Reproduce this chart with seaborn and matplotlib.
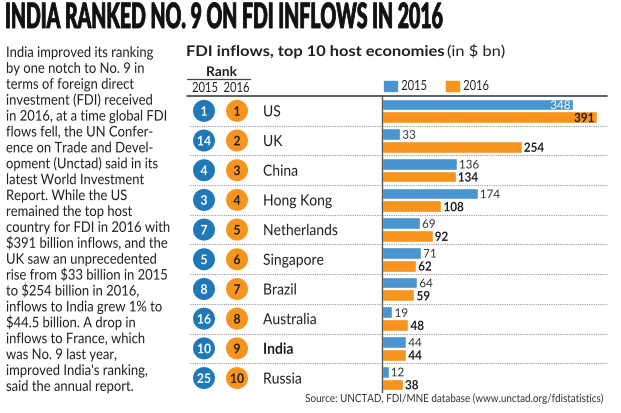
import matplotlib
matplotlib.use("Agg")
import matplotlib.pyplot as plt
from matplotlib.lines import Line2D
from matplotlib.patches import Rectangle
from matplotlib.patheffects import AbstractPathEffect
from matplotlib.transforms import Affine2D, ScaledTranslation
import seaborn as sns
import pandas as pd
import numpy as np

# ---------------- data ----------------
countries = ["US", "UK", "China", "Hong Kong", "Netherlands", "Singapore",
             "Brazil", "Australia", "India", "Russia"]
fdi_2015 = [348, 33, 136, 174, 69, 71, 64, 19, 44, 12]
fdi_2016 = [391, 254, 134, 108, 92, 62, 59, 48, 44, 38]
rank_2015 = [1, 14, 4, 3, 7, 5, 8, 16, 10, 25]
rank_2016 = [1, 2, 3, 4, 5, 6, 7, 8, 9, 10]
years = ["2015", "2016"]
highlight = "India"

title = "INDIA RANKED NO. 9 ON FDI INFLOWS IN 2016"
subtitle_bold = "FDI inflows, top 10 host economies"
subtitle_rest = "(in $ bn)"
rank_header = "Rank"
source = "Source: UNCTAD, FDI/MNE database (www.unctad.org/fdistatistics)"
paragraph = [
    "India improved its ranking",
    "by one notch to No. 9 in",
    "terms of foreign direct",
    "investment (FDI) received",
    "in 2016, at a time global FDI",
    "flows fell, the UN Confer-",
    "ence on Trade and Devel-",
    "opment (Unctad) said in its",
    "latest World Investment",
    "Report. While the US",
    "remained the top host",
    "country for FDI in 2016 with",
    "$391 billion inflows, and the",
    "UK saw an unprecedented",
    "rise from $33 billion in 2015",
    "to $254 billion in 2016,",
    "inflows to India grew 1% to",
    "$44.5 billion. A drop in",
    "inflows to France, which",
    "was No. 9 last year,",
    "improved India's ranking,",
    "said the annual report.",
]

# ---------------- style ----------------
BLUE_BAR = "#4a94cf"
ORANGE = "#f7941d"
BLUE_CIRC = "#1f78b8"
DARK = "#231f20"

sns.set_style("white")
FONT = ["Lato", "DejaVu Sans"]
plt.rcParams["font.family"] = FONT
CAP = 0.7165  # cap height / em for Lato

W, H = 621, 414
fig = plt.figure(figsize=(W / 100, H / 100), dpi=100)
fig.patch.set_facecolor("white")
renderer = fig.canvas.get_renderer()


class Stretch(AbstractPathEffect):
    """Scale glyph outlines about the text anchor (keeps the text a Text)."""

    def __init__(self, text, sx=1.0, sy=1.0, lw=0.0):
        super().__init__()
        self.text, self.sx, self.sy, self.lw = text, sx, sy, lw

    def draw_path(self, renderer, gc, tpath, affine, rgbFace=None):
        x0, y0 = self.text.get_transform().transform(self.text.get_unitless_position())
        extra = Affine2D().translate(-x0, -y0).scale(self.sx, self.sy).translate(x0, y0)
        aff = affine + extra
        if self.lw > 0:
            gc0 = renderer.new_gc()
            gc0.copy_properties(gc)
            gc0.set_linewidth(self.lw)
            gc0.set_foreground(rgbFace)
            renderer.draw_path(gc0, tpath, aff, rgbFace)
            gc0.restore()
        else:
            renderer.draw_path(gc, tpath, aff, rgbFace)


def fx(px):
    return px / W


def fy(py):
    return 1 - py / H


def fit(t, target):
    w = t.get_window_extent(renderer).width
    t.set_fontsize(t.get_fontsize() * target / w)
    return t.get_fontsize()


def shape(t, fontsize, cap_px, lw=0.0):
    t.set_fontsize(fontsize)
    cap_now = fontsize * 100 / 72 * CAP
    t.set_path_effects([Stretch(t, 1.0, cap_px / cap_now, lw)])


def fit_shape(t, width_px, cap_px, lw=0.0):
    fs = fit(t, width_px)
    shape(t, fs, cap_px, lw)
    return fs


# ---------------- bar axes ----------------
top_px, bot_px = 97, 393
ax = fig.add_axes([fx(382), fy(bot_px), fx(607) - fx(382), (bot_px - top_px) / H])

df = pd.DataFrame({
    "country": countries * 2,
    "year": [years[0]] * len(countries) + [years[1]] * len(countries),
    "value": fdi_2015 + fdi_2016,
})
sns.barplot(data=df, y="country", x="value", hue="year", orient="h",
            palette=[BLUE_BAR, ORANGE], width=0.86, gap=0.08,
            saturation=1, ax=ax, legend=True)
ax.set_xlim(0, 409)
ax.set_ylim(9.47, -0.5)
ax.set_xlabel("")
ax.set_ylabel("")
ax.set_xticks([])
ax.set_yticks([])
for s in ["top", "right", "bottom"]:
    ax.spines[s].set_visible(False)
ax.spines["left"].set_color("#555555")
ax.spines["left"].set_linewidth(1.0)
ax.set_facecolor("none")

# legend
handles = [Rectangle((0, 0), 1, 1, color=BLUE_BAR), Rectangle((0, 0), 1, 1, color=ORANGE)]
leg = ax.legend(handles, years, loc="lower left", bbox_to_anchor=(fx(384), fy(93)),
                bbox_transform=fig.transFigure, ncol=2, frameon=False,
                handlelength=1.2, handleheight=1.0, handletextpad=0.35,
                columnspacing=1.7, borderpad=0, borderaxespad=0,
                prop={"family": FONT, "size": 8.0})
for t in leg.get_texts():
    shape(t, 8.0, 10.0)

# value labels
vals = [fdi_2015, fdi_2016]
for k, cont in enumerate(ax.containers):
    for patch, v in zip(cont, vals[k]):
        x = patch.get_width()
        y = patch.get_y() + patch.get_height() / 2
        bold = (k == 1)
        inside = v > 300
        dx = -2.0 if inside else 1.5
        tr = ax.transData + ScaledTranslation(dx / 72, 0, fig.dpi_scale_trans)
        col = ("white" if k == 0 else DARK) if inside else (DARK if bold else "#333333")
        t = ax.text(x, y, str(v), transform=tr, ha="right" if inside else "left",
                    va="center_baseline", color=col, fontsize=8.4,
                    fontweight="bold" if bold else "normal")
        shape(t, 8.4, 9.2 if bold else 8.6)

# ---------------- left table axes ----------------
axl = fig.add_axes([fx(180), fy(bot_px), fx(382) - fx(180), (bot_px - top_px) / H])
axl.set_xlim(180, 382)
axl.set_ylim(9.47, -0.5)
axl.axis("off")
ypos = np.arange(len(countries))
sns.scatterplot(x=np.full(len(countries), 204.0), y=ypos, s=250, color=BLUE_CIRC,
                edgecolor="none", ax=axl, legend=False, clip_on=False)
sns.scatterplot(x=np.full(len(countries), 237.0), y=ypos, s=250, color=ORANGE,
                edgecolor="none", ax=axl, legend=False, clip_on=False)
for i in range(len(countries)):
    t1 = axl.text(204, ypos[i], str(rank_2015[i]), ha="center", va="center_baseline",
                  color="white", fontsize=8.8, fontweight="bold")
    shape(t1, 8.8, 9.5)
    t2 = axl.text(237, ypos[i], str(rank_2016[i]), ha="center", va="center_baseline",
                  color=DARK, fontsize=8.8, fontweight="bold")
    shape(t2, 8.8, 9.5)

name_texts = []
for i, c in enumerate(countries):
    t = axl.text(263, ypos[i], c, ha="left", va="center_baseline", color=DARK,
                 fontsize=11, fontweight="bold" if c == highlight else "normal")
    name_texts.append(t)
name_fs = fit(name_texts[countries.index("Netherlands")], 75)
for t in name_texts:
    shape(t, name_fs, 11.0)

# separators (dotted) between rows
for i in range(len(countries) - 1):
    axl.plot([190, 382], [i + 0.5, i + 0.5], color="#9a9a9a", lw=0.8,
             ls=(0, (1, 1)), clip_on=False)
    ax.plot([0, 409], [i + 0.5, i + 0.5], color="#9a9a9a", lw=0.8,
            ls=(0, (1, 1)), clip_on=False)

# top rule
fig.add_artist(Line2D([fx(187), fx(607)], [fy(97), fy(97)], color="#444444", lw=1.2))

# rank header
rk = fig.text(fx(221.5), fy(77), rank_header, ha="center", va="baseline",
              fontsize=10, fontweight="bold", color=DARK)
fit_shape(rk, 31, 9.5)
fig.add_artist(Line2D([fx(187), fx(250)], [fy(80), fy(80)], color="#444444", lw=0.9))
y1 = fig.text(fx(205), fy(93), years[0], ha="center", va="baseline", fontsize=10, color=DARK)
yfs = fit(y1, 26)
shape(y1, yfs, 10.0)
y2 = fig.text(fx(236.5), fy(93), years[1], ha="center", va="baseline", fontsize=yfs, color=DARK)
shape(y2, yfs, 10.0)

# ---------------- titles ----------------
tt = fig.text(fx(5), fy(29), title, ha="left", va="baseline", fontsize=22,
              fontweight=900, color="#111111")
fit_shape(tt, 438, 25.0, lw=0.6)

st = fig.text(fx(186), fy(57), subtitle_bold, ha="left", va="baseline",
              fontsize=12, fontweight="bold", color=DARK)
sfs = fit_shape(st, 257, 10.5)
sr = fig.text(fx(447), fy(57), subtitle_rest, ha="left", va="baseline",
              fontsize=sfs, color=DARK)
shape(sr, sfs, 10.5)

src = fig.text(fx(604), fy(403), source, ha="right", va="baseline",
               fontsize=8, color="#333333")
fit_shape(src, 299, 8.0)

# ---------------- paragraph ----------------
ptexts = []
for j, line in enumerate(paragraph):
    t = fig.text(fx(6), fy(58 + j * 15.9), line, ha="left", va="baseline",
                 fontsize=11, color=DARK)
    ptexts.append(t)
pfs = fit(ptexts[11], 164)
for t in ptexts:
    shape(t, pfs, 10.5)

fig.savefig("out.png", dpi=100, facecolor="white")
